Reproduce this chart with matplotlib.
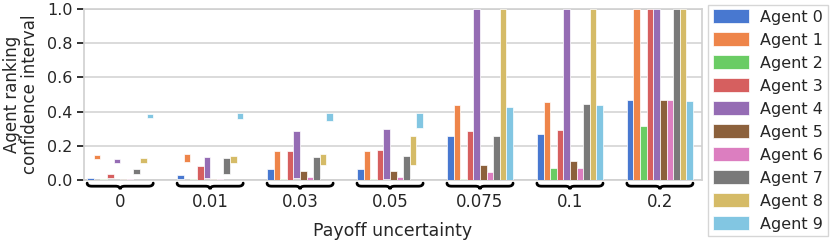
import matplotlib
matplotlib.use("Agg")
import matplotlib.pyplot as plt
import matplotlib.transforms as mtransforms
from matplotlib.path import Path
from matplotlib.patches import PathPatch
import numpy as np
import seaborn as sns

sns.set_style("whitegrid")
plt.rcParams['font.family'] = ['DejaVu Sans']

uncertainty = ["0", "0.01", "0.03", "0.05", "0.075", "0.1", "0.2"]
agents = ["Agent %d" % i for i in range(10)]

# lower / upper bound of the ranking confidence interval, one row per agent
low = [
    [0.00, 0.005, 0.00, 0.00, 0.00, 0.00, 0.00],   # agent 0
    [0.123, 0.107, 0.00, 0.00, 0.00, 0.00, 0.00],  # agent 1
    [0.00, 0.00, 0.00, 0.00, 0.00, 0.00, 0.00],    # agent 2
    [0.012, 0.00, 0.00, 0.00, 0.00, 0.00, 0.00],   # agent 3
    [0.097, 0.014, 0.012, 0.005, 0.00, 0.00, 0.00],# agent 4
    [0.00, 0.00, 0.00, 0.00, 0.00, 0.00, 0.00],    # agent 5
    [0.00, 0.00, 0.003, 0.00, 0.00, 0.00, 0.00],   # agent 6
    [0.037, 0.037, 0.00, 0.00, 0.00, 0.00, 0.00],  # agent 7
    [0.100, 0.097, 0.088, 0.090, 0.00, 0.00, 0.00],# agent 8
    [0.365, 0.355, 0.345, 0.305, 0.00, 0.00, 0.00],# agent 9
]
high = [
    [0.010, 0.027, 0.064, 0.066, 0.257, 0.270, 0.465],
    [0.148, 0.150, 0.170, 0.172, 0.440, 0.457, 1.000],
    [0.008, 0.008, 0.005, 0.005, 0.006, 0.070, 0.315],
    [0.037, 0.082, 0.172, 0.175, 0.287, 0.290, 1.000],
    [0.121, 0.134, 0.285, 0.300, 1.000, 1.000, 1.000],
    [0.008, 0.008, 0.050, 0.052, 0.085, 0.113, 0.465],
    [0.008, 0.008, 0.015, 0.015, 0.045, 0.070, 0.465],
    [0.062, 0.129, 0.137, 0.138, 0.260, 0.445, 1.000],
    [0.127, 0.142, 0.150, 0.255, 1.000, 1.000, 1.000],
    [0.388, 0.390, 0.393, 0.393, 0.425, 0.437, 0.463],
]

colors = sns.color_palette("muted", 10)


def brace(ax, x0, x1, y0, h, **kw):
    # horizontal curly brace, tip pointing down, x in data / y in axes coords
    xm = 0.5 * (x0 + x1)
    d = (x1 - x0) * 0.07
    ym = y0 - h / 2
    verts = [(x0, y0), (x0, ym), (x0 + d, ym),
             (xm - d, ym), (xm, ym), (xm, y0 - h),
             (xm, ym), (xm + d, ym),
             (x1 - d, ym), (x1, ym), (x1, y0)]
    codes = [Path.MOVETO, Path.CURVE3, Path.CURVE3,
             Path.LINETO, Path.CURVE3, Path.CURVE3,
             Path.CURVE3, Path.CURVE3,
             Path.LINETO, Path.CURVE3, Path.CURVE3]
    trans = mtransforms.blended_transform_factory(ax.transData, ax.transAxes)
    p = PathPatch(Path(verts, codes), transform=trans, fill=False,
                  clip_on=False, capstyle='round', **kw)
    ax.add_patch(p)


fig, ax = plt.subplots(figsize=(8.3, 2.41), dpi=100)
plt.subplots_adjust(left=0.101, right=0.846, top=0.963, bottom=0.253)

n = len(agents)
width = 0.0734
groups = np.arange(len(uncertainty))
for j in range(n):
    lo = np.array(low[j])
    hi = np.array(high[j])
    xs = groups + (j - (n - 1) / 2) * width
    ax.bar(xs, hi - lo, bottom=lo, width=width, color=colors[j],
           edgecolor='white', linewidth=0.5, label=agents[j], zorder=3)

for g in groups:
    brace(ax, g - n * width / 2, g + n * width / 2, -0.018, 0.036,
          color='black', lw=2)

ax.set_xlim(-0.404, 6.47)
ax.set_ylim(0, 1.0)
ax.set_xticks(groups)
ax.set_xticklabels(uncertainty)
ax.tick_params(axis='x', length=0, pad=9, labelsize=12)
ax.tick_params(axis='y', left=True, length=5, width=1.3, color='#222222',
               labelsize=11.5, pad=3)
ax.set_yticks([0, 0.2, 0.4, 0.6, 0.8, 1.0])
ax.grid(axis='x', visible=False)
ax.grid(axis='y', color='#d4d4d4', lw=1.2)
for s in ax.spines.values():
    s.set_color('#d0d0d0')
    s.set_linewidth(1.2)

ax.set_xlabel("Payoff uncertainty", fontsize=12.5, labelpad=8)
ax.set_ylabel("Agent ranking\nconfidence interval", fontsize=12,
              labelpad=6, linespacing=1.0)

handles, labels = ax.get_legend_handles_labels()
leg = fig.legend(handles, labels, loc='center left',
                 bbox_to_anchor=(0.853, 0.5), fontsize=11.5,
                 frameon=True, fancybox=False, labelspacing=0.48,
                 handlelength=2.25, handleheight=0.94, borderpad=0.3,
                 handletextpad=0.7, borderaxespad=0)
leg.get_frame().set_edgecolor('#cccccc')

fig.savefig("out.png", dpi=100)
